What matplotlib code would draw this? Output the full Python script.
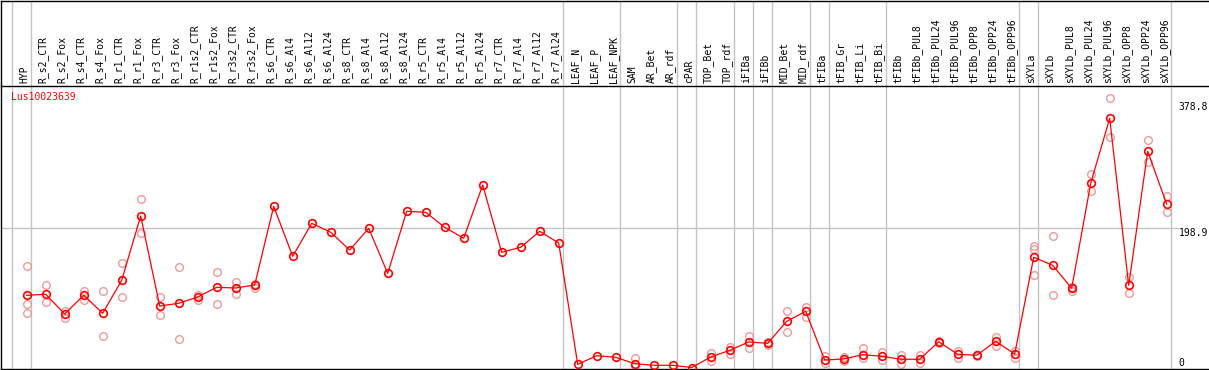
import matplotlib.pyplot as plt
import matplotlib.transforms as mtransforms

# Sample names (x categories)
samples = [
    "HYP", "R_s2_CTR", "R_s2_Fox", "R_s4_CTR", "R_s4_Fox", "R_r1_CTR", "R_r1_Fox",
    "R_r3_CTR", "R_r3_Fox", "R_r1s2_CTR", "R_r1s2_Fox", "R_r3s2_CTR", "R_r3s2_Fox",
    "R_s6_CTR", "R_s6_Al4", "R_s6_Al12", "R_s6_Al24", "R_s8_CTR", "R_s8_Al4",
    "R_s8_Al12", "R_s8_Al24", "R_r5_CTR", "R_r5_Al4", "R_r5_Al12", "R_r5_Al24",
    "R_r7_CTR", "R_r7_Al4", "R_r7_Al12", "R_r7_Al24", "LEAF_N", "LEAF_P", "LEAF_NPK",
    "SAM", "AR_Bet", "AR_rdf", "cPAR", "TOP_Bet", "TOP_rdf", "iFIBa", "iFIBb",
    "MID_Bet", "MID_rdf", "tFIBa", "tFIB_Gr", "tFIB_Li", "tFIB_Bi", "tFIBb",
    "tFIBb_PUL8", "tFIBb_PUL24", "tFIBb_PUL96", "tFIBb_OPP8", "tFIBb_OPP24",
    "tFIBb_OPP96", "sXYLa", "sXYLb", "sXYLb_PUL8", "sXYLb_PUL24", "sXYLb_PUL96",
    "sXYLb_OPP8", "sXYLb_OPP24", "sXYLb_OPP96",
]

# Mean expression per sample
means = [
    103.2, 104.6, 76.5, 103.2, 77.5, 124.6, 216.5, 87.9, 91.8, 100.8, 114.6, 113.6, 117.9,
    230.3, 158.9, 206.0, 193.2, 167.9, 198.9, 134.6, 223.2, 221.8, 200.3, 184.6, 260.8,
    164.6, 171.8, 194.6, 177.9, 4.6, 16.9, 14.6,
    5.5, 3.2, 3.2, 0.0, 15.0, 24.6, 36.5, 34.6,
    66.0, 80.3, 10.8, 12.2, 18.3, 16.2, 11.8,
    11.8, 36.9, 18.9, 17.5, 37.5,
    19.3, 157.5, 146.0, 113.2, 263.2, 356.0,
    117.5, 308.9, 233.2,
]

# Individual replicates per sample
replicates = [
    [144.6, 90.3, 77.5], [117.5, 93.2], [81.2, 71.2], [109.8, 96.0], [108.9, 45.0],
    [148.9, 100.3], [240.3, 191.8], [100.8, 74.6], [143.2, 40.3], [103.6, 96.5],
    [136.0, 91.2], [122.2, 105.5], [119.3, 113.6],
    [], [], [], [], [], [], [], [], [], [], [], [], [], [], [], [], [], [], [],
    [13.2, 2.2], [], [], [], [21.2, 9.8], [29.8, 18.9], [45.0, 27.5], [36.9, 32.2],
    [81.2, 50.8], [86.9, 72.6], [16.5, 6.9], [15.5, 9.8], [27.5, 13.2], [21.8, 10.8],
    [17.9, 5.0], [17.9, 6.0], [35.5, 38.3], [23.6, 14.0], [16.5, 18.5], [44.0, 31.2],
    [24.0, 13.2], [174.0, 169.3, 131.8], [187.9, 103.2], [115.5, 109.8], [276.0, 252.2],
    [384.6, 329.3], [128.9, 106.0], [324.6, 293.2], [244.6, 221.8],
]

# Index of last sample in each group (separator drawn after it)
group_ends = [-1, 0, 28, 31, 34, 35, 37, 38, 39, 41, 42, 45, 52, 53, 60]

axis_labels = [378.8, 198.9, 0]
gene = "Lus10023639"

W, H = 1209, 370
fig = plt.figure(figsize=(W / 100, H / 100), dpi=100)

xlim = ((1 - 26.7) / 19, (W - 26.7) / 19)
ylim = (-2.1, 402.2)

ax_h = fig.add_axes([1 / W, (H - 86) / H, 1 - 1 / W, 85.5 / H])
ax = fig.add_axes([1 / W, 1 / H, 1 - 1 / W, 85 / H * 0 + 283 / H])

grey = "#c4c4c4"
for a in (ax, ax_h):
    a.set_xlim(*xlim)
    a.set_xticks([])
    a.set_yticks([])
    for s in a.spines.values():
        s.set_color("black")
        s.set_linewidth(1.0)
    a.spines["right"].set_visible(False)
    for b in group_ends:
        a.axvline(b + 0.21, color=grey, lw=1.0, zorder=0)

ax_h.spines["bottom"].set_visible(False)
ax.set_ylim(*ylim)

mono = "DejaVu Sans Mono"
trans_h = mtransforms.blended_transform_factory(ax_h.transData, ax_h.transAxes)
for i, name in enumerate(samples):
    ax_h.text(i - 0.13, 0.035, name, rotation=90, ha="center", va="bottom",
              fontsize=7.0, family=mono, transform=trans_h)

# grid line at the middle value
ax.axhline(axis_labels[1], xmin=0, xmax=0.974, color=grey, lw=1.0, zorder=0)

xs = list(range(len(samples)))
for i, reps in enumerate(replicates):
    if reps:
        ax.plot([i] * len(reps), reps, linestyle="none", marker="o", ms=5.5,
                mfc="none", mec="#ee9a9a", mew=1.0, zorder=2)
ax.plot(xs, means, color="red", lw=0.9, marker="o", ms=5.5, mfc="none",
        mec="red", mew=1.2, zorder=3)

trans_r = mtransforms.blended_transform_factory(ax.transAxes, ax.transData)
for v in axis_labels:
    ax.text(0.975, v, f"{v}", ha="left", va="bottom" if v == 0 else "top",
            fontsize=7.0, family=mono, transform=trans_r)

ax.text(10 / W, 0.96, gene, color="red", ha="left", va="center",
        fontsize=7.0, family=mono, transform=ax.transAxes)

fig.savefig("out.png", dpi=100)
